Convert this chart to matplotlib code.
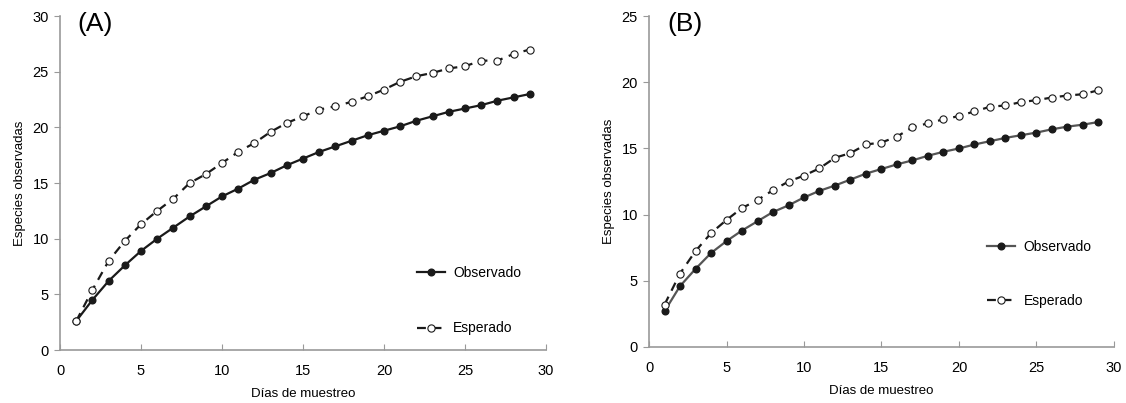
import matplotlib
matplotlib.use('Agg')
import matplotlib.pyplot as plt
from matplotlib import ticker

plt.rcParams['font.family'] = ['Liberation Sans', 'DejaVu Sans']

#==============================================================================#
# data
dias = list(range(1, 30))

obs_a = [2.6, 4.5, 6.2, 7.6, 8.9, 10.0, 11.0, 12.0, 12.9, 13.8,
         14.5, 15.3, 15.9, 16.6, 17.2, 17.8, 18.3, 18.8, 19.3, 19.7,
         20.1, 20.6, 21.0, 21.4, 21.7, 22.0, 22.4, 22.7, 23.0]
esp_a = [2.6, 5.4, 8.0, 9.8, 11.3, 12.5, 13.6, 15.0, 15.8, 16.8,
         17.8, 18.6, 19.6, 20.4, 21.0, 21.6, 21.9, 22.3, 22.8, 23.4,
         24.1, 24.6, 24.9, 25.3, 25.5, 26.0, 26.0, 26.6, 27.0]

obs_b = [2.7, 4.6, 5.9, 7.1, 8.0, 8.8, 9.5, 10.2, 10.7, 11.3,
         11.8, 12.2, 12.65, 13.1, 13.45, 13.8, 14.1, 14.45, 14.75, 15.0,
         15.3, 15.55, 15.8, 16.0, 16.2, 16.45, 16.65, 16.8, 17.0]
esp_b = [3.2, 5.55, 7.25, 8.6, 9.6, 10.5, 11.1, 11.85, 12.5, 12.95,
         13.5, 14.3, 14.65, 15.3, 15.45, 15.9, 16.6, 16.9, 17.2, 17.45,
         17.8, 18.15, 18.25, 18.5, 18.65, 18.85, 19.0, 19.1, 19.4]

#==============================================================================#
def style_ax(ax, ymax):
    for s in ['top', 'right']:
        ax.spines[s].set_visible(False)
    for s in ['left', 'bottom']:
        ax.spines[s].set_color('#999999')
        ax.spines[s].set_linewidth(1.2)
    ax.set_xlim(0, 30)
    ax.set_ylim(0, ymax)
    ax.xaxis.set_major_locator(ticker.MultipleLocator(5))
    ax.yaxis.set_major_locator(ticker.MultipleLocator(5))
    ax.tick_params(axis='x', direction='in', length=4, color='#999999',
                   labelsize=10.5, pad=10)
    ax.tick_params(axis='y', direction='out', length=4, color='#999999',
                   labelsize=10.5, pad=4)
    ax.set_xlabel('Días de muestreo', fontsize=9.5, labelpad=7)
    ax.set_ylabel('Especies observadas', fontsize=9.5, labelpad=5)


fig = plt.figure(figsize=(11.26, 4.03), dpi=100)
ax1 = fig.add_axes([0.0533, 0.1315, 0.4316, 0.8285])
ax2 = fig.add_axes([0.5764, 0.139, 0.4129, 0.821])

# panel A
style_ax(ax1, 30)
ax1.plot(dias, obs_a, c='#1a1a1a', lw=1.6, marker='o', ms=4.8,
         mfc='#1a1a1a', mec='#1a1a1a', label='Observado')
ax1.plot(dias, esp_a, c='#1a1a1a', lw=1.6, ls=(0, (4, 3)), marker='o', ms=5.2,
         mfc='white', mec='#1a1a1a', mew=0.8, label='Esperado')
ax1.text(0.035, 0.975, '(A)', fontsize=19, transform=ax1.transAxes,
         ha='left', va='center')
ax1.legend(loc='center left', bbox_to_anchor=(0.735, 0.148), frameon=False,
           borderpad=0, borderaxespad=0, labelspacing=3.0, handlelength=2.0,
           handletextpad=0.6, fontsize=10)

# panel B
style_ax(ax2, 25)
ax2.plot(dias, obs_b, c='#555555', lw=1.6, marker='o', ms=4.8,
         mfc='#1a1a1a', mec='#1a1a1a', label='Observado')
ax2.plot(dias, esp_b, c='#1a1a1a', lw=1.6, ls=(0, (4, 3)), marker='o', ms=5.2,
         mfc='white', mec='#1a1a1a', mew=0.8, label='Esperado')
ax2.text(0.04, 0.975, '(B)', fontsize=19, transform=ax2.transAxes,
         ha='left', va='center')
ax2.legend(loc='center left', bbox_to_anchor=(0.728, 0.22), frameon=False,
           borderpad=0, borderaxespad=0, labelspacing=2.9, handlelength=2.0,
           handletextpad=0.6, fontsize=10)

fig.savefig('out.png', dpi=100)
